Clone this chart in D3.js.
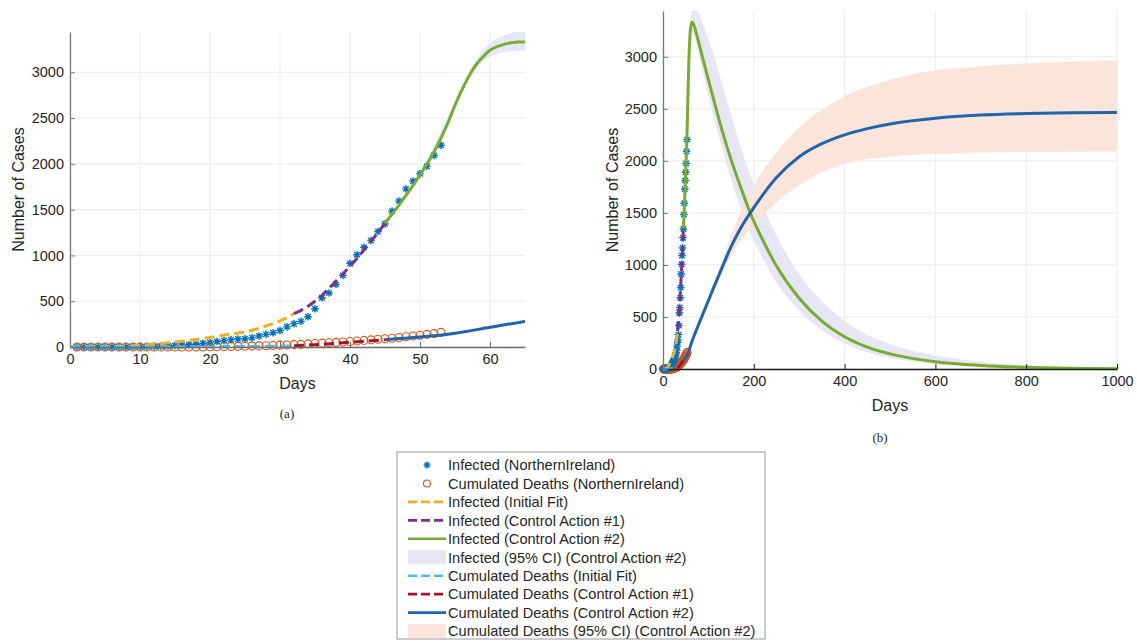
<!DOCTYPE html>
<html>
<head>
<meta charset="utf-8">
<script src="https://cdn.jsdelivr.net/npm/d3@7"></script>
<style>
  body { margin: 0; background: #fff; }
  text { font-family: "Liberation Sans", Arial, Helvetica, sans-serif; fill: #262626; }
  .caption { font-family: "Liberation Serif", "Times New Roman", serif; }
</style>
</head>
<body>
<script>
// ---- data ----
var obsDays = d3.range(1, 54);
var infectedObs = [1,1,1,1,1,1,1,1,2,3,4,6,8,12,15,20,25,30,40,50,60,70,80,88,90,100,120,138,156,180,
  220,255,280,330,418,538,590,684,782,913,1007,1090,1164,1262,1345,1484,1593,1727,1811,1891,1975,2091,2204];
var deathsObs = [0,0,0,0,0,0,0,0,0,0,0,0,0,0,0,0,0,1,1,2,3,5,6,7,9,10,12,14,17,20,
  22,26,29,34,38,42,46,50,55,60,66,72,78,84,90,96,104,112,120,128,138,146,160];

var infInitDays = [0,5,10,12,15,18,20,22,25,27,29,30,31,32];
var infInit     = [1,4,18,30,55,82,105,130,165,205,255,285,320,365];

var infCA1Days = [32,33,34,35,36,37,38,39,40,41,42,43,44,45];
var infCA1     = [365,400,445,500,565,640,720,800,880,970,1060,1155,1250,1350];

var infCA2Days = [45,46,47,48,49,50,51,52,53,54,55,56,57,58,59,60,61,62,63,64,66,70,76,85,96,110,133,150,170,195,214,250,300,350,400,450,500,600,700,800,900,1000];
var infCA2     = [1350,1450,1550,1655,1765,1880,2000,2130,2280,2450,2640,2810,2960,3080,3170,3240,3280,3305,3322,3332,3326,3280,3185,3030,2845,2615,2250,2010,1760,1470,1290,990,680,460,310,210,145,70,34,16,7,3];

var infCIDays = [45,50,55,58,60,62,64,66,70,76,85,96,110,133,150,170,195,214,250,300,350,400,450,500,600,700,800,1000];
var infCILow  = [1350,1865,2615,3040,3170,3220,3232,3230,3180,3080,2900,2700,2450,2080,1820,1560,1280,1110,830,560,370,245,160,105,48,22,10,2];
var infCIHigh = [1350,1895,2680,3140,3320,3400,3450,3480,3480,3440,3350,3220,3040,2700,2440,2150,1830,1620,1280,910,650,460,330,240,130,70,35,8];

var deaInitDays = [0,10,20,25,30,32];
var deaInit     = [0,1,3,6,10,13];

var deaCA1Days = [32,35,38,40,42,45];
var deaCA1     = [13,25,40,52,63,80];

var deaCA2Days = [45,50,55,60,65,70,80,96,110,133,150,170,200,250,300,350,400,450,500,600,700,800,900,1000];
var deaCA2     = [80,108,150,215,280,335,445,615,765,1005,1175,1345,1550,1840,2040,2165,2250,2310,2355,2410,2440,2455,2462,2465];

var deaCIDays = [100,120,140,160,180,200,250,300,350,400,500,600,700,800,1000];
var deaCILow  = [663,840,1010,1160,1280,1380,1600,1770,1890,1970,2040,2065,2080,2085,2090];
var deaCIHigh = [663,910,1160,1390,1590,1760,2080,2320,2490,2620,2780,2870,2910,2935,2965];

var yTicks = [0,500,1000,1500,2000,2500,3000];
var xTicksA = [0,10,20,30,40,50,60];
var xTicksB = [0,200,400,600,800,1000];

var legendLabels = [
  "Infected (NorthernIreland)",
  "Cumulated Deaths (NorthernIreland)",
  "Infected (Initial Fit)",
  "Infected (Control Action #1)",
  "Infected (Control Action #2)",
  "Infected (95% CI) (Control Action #2)",
  "Cumulated Deaths (Initial Fit)",
  "Cumulated Deaths (Control Action #1)",
  "Cumulated Deaths (Control Action #2)",
  "Cumulated Deaths (95% CI) (Control Action #2)"
];

// ---- styles ----
var col = {
  star: "#0072BD", circ: "#D95319", yellow: "#EDB120", purple: "#7E2F8E",
  green: "#77AC30", lav: "#e6e6f4", lblue: "#4DBEEE", dred: "#A2142F",
  blue: "#1f64ad", peach: "#fbe4da"
};
var yMax = 3440;

var svg = d3.select("body").append("svg")
  .attr("width", 1137).attr("height", 642);

function starPath(s) {
  var d = s * 0.72;
  return "M" + (-s) + ",0H" + s + "M0," + (-s) + "V" + s +
    "M" + (-d) + "," + (-d) + "L" + d + "," + d + "M" + (-d) + "," + d + "L" + d + "," + (-d);
}

function zip(days, vals) {
  return days.map(function (d, i) { return [d, vals[i]]; });
}

function drawPanel(p) {
  var g = svg.append("g");
  var x = d3.scaleLinear().domain([0, p.xMax]).range([p.x0, p.x1]);
  var y = d3.scaleLinear().domain([0, yMax]).range([p.y0, p.yTop]);

  // grid
  g.append("g").selectAll("line").data(p.xTicks).join("line")
    .attr("x1", function (d) { return x(d); }).attr("x2", function (d) { return x(d); })
    .attr("y1", p.y0).attr("y2", p.yTop)
    .attr("stroke", "#ebebeb").attr("stroke-width", 1);
  g.append("g").selectAll("line").data(yTicks).join("line")
    .attr("x1", p.x0).attr("x2", p.x1)
    .attr("y1", function (d) { return y(d); }).attr("y2", function (d) { return y(d); })
    .attr("stroke", "#ebebeb").attr("stroke-width", 1);

  var clipId = "clip" + p.id;
  svg.append("clipPath").attr("id", clipId).append("rect")
    .attr("x", p.x0).attr("y", p.yTop).attr("width", p.x1 - p.x0).attr("height", p.y0 - p.yTop);
  var clipId2 = "clipL" + p.id;
  svg.append("clipPath").attr("id", clipId2).append("rect")
    .attr("x", p.x0 - 3).attr("y", p.yTop).attr("width", p.x1 - p.x0 + 3).attr("height", p.y0 - p.yTop + 4);

  var area = d3.area().curve(d3.curveMonotoneX)
    .x(function (d) { return x(d[0]); })
    .y0(function (d) { return y(d[1]); })
    .y1(function (d) { return y(d[2]); });
  var bands = g.append("g").attr("clip-path", "url(#" + clipId + ")");
  bands.append("path")
    .datum(infCIDays.map(function (d, i) { return [d, infCILow[i], infCIHigh[i]]; }))
    .attr("d", area).attr("fill", col.lav);
  bands.append("path")
    .datum(deaCIDays.map(function (d, i) { return [d, deaCILow[i], deaCIHigh[i]]; }))
    .attr("d", area).attr("fill", col.peach);

  // observations
  g.append("g").selectAll("circle").data(zip(obsDays, deathsObs)).join("circle")
    .attr("cx", function (d) { return x(d[0]); }).attr("cy", function (d) { return y(d[1]); })
    .attr("r", 4).attr("fill", "none").attr("stroke", col.circ).attr("stroke-width", 1.1);
  g.append("g").selectAll("path").data(zip(obsDays, infectedObs)).join("path")
    .attr("transform", function (d) { return "translate(" + x(d[0]) + "," + y(d[1]) + ")"; })
    .attr("d", starPath(3.8)).attr("fill", "none").attr("stroke", col.star).attr("stroke-width", 1.4);

  // fitted curves
  var line = d3.line().curve(d3.curveMonotoneX)
    .x(function (d) { return x(d[0]); }).y(function (d) { return y(d[1]); });
  var curves = [
    { d: zip(infInitDays, infInit), c: col.yellow, dash: "10,5" },
    { d: zip(infCA1Days, infCA1), c: col.purple, dash: "10,5" },
    { d: zip(infCA2Days, infCA2), c: col.green, dash: null },
    { d: zip(deaInitDays, deaInit), c: col.lblue, dash: "10,5" },
    { d: zip(deaCA1Days, deaCA1), c: col.dred, dash: "10,5" },
    { d: zip(deaCA2Days, deaCA2), c: col.blue, dash: null }
  ];
  var lines = g.append("g").attr("clip-path", "url(#" + clipId2 + ")");
  curves.forEach(function (s) {
    lines.append("path").datum(s.d).attr("d", line)
      .attr("fill", "none").attr("stroke", s.c).attr("stroke-width", 3)
      .attr("stroke-dasharray", s.dash);
  });

  // axes
  var fmt = d3.format("d");
  var xAxis = d3.axisBottom(x).tickValues(p.xTicks).tickFormat(fmt)
    .tickSizeInner(-5).tickSizeOuter(0).tickPadding(7);
  var yAxis = d3.axisLeft(y).tickValues(yTicks).tickFormat(fmt)
    .tickSizeInner(-5).tickSizeOuter(0).tickPadding(6);
  var gx = g.append("g").attr("transform", "translate(0," + p.y0 + ")").call(xAxis);
  gx.select(".domain").attr("stroke", p.xAxisColor).attr("stroke-width", 1.3);
  gx.selectAll(".tick line").attr("stroke", p.xAxisColor);
  gx.selectAll("text").attr("font-size", 14.5).attr("fill", "#262626")
    .attr("font-family", "Liberation Sans, Arial, sans-serif");
  var gy = g.append("g").attr("transform", "translate(" + p.x0 + ",0)").call(yAxis);
  gy.select(".domain").attr("stroke", "#7a7a7a").attr("stroke-width", 1.3);
  gy.selectAll(".tick line").attr("stroke", "#7a7a7a");
  gy.selectAll("text").attr("font-size", 14.5).attr("fill", "#262626")
    .attr("font-family", "Liberation Sans, Arial, sans-serif");

  g.append("text").attr("x", (p.x0 + p.x1) / 2).attr("y", p.y0 + 42)
    .attr("text-anchor", "middle").attr("font-size", 16).text("Days");
  g.append("text")
    .attr("transform", "translate(" + p.yLabelX + "," + ((p.y0 + p.yTop) / 2) + ") rotate(-90)")
    .attr("text-anchor", "middle").attr("font-size", 16).text("Number of Cases");
  g.append("text").attr("class", "caption").attr("x", p.capX).attr("y", p.capY)
    .attr("text-anchor", "middle").attr("font-size", 13).text(p.caption);
}

drawPanel({ id: "a", x0: 70, x1: 525, yTop: 32, y0: 347, xMax: 65, xTicks: xTicksA,
  xAxisColor: "#6e6e6e", yLabelX: 24, capX: 287, capY: 418, caption: "(a)" });
drawPanel({ id: "b", x0: 663, x1: 1117, yTop: 11, y0: 369, xMax: 1000, xTicks: xTicksB,
  xAxisColor: "#1a1a1a", yLabelX: 618, capX: 880, capY: 442, caption: "(b)" });

// ---- legend ----
var leg = svg.append("g").attr("transform", "translate(397,452)");
leg.append("rect").attr("x", 0).attr("y", 0).attr("width", 368).attr("height", 187)
  .attr("fill", "#fff").attr("stroke", "#9a9a9a").attr("stroke-width", 1);

var legKinds = [
  { t: "star", c: col.star }, { t: "circ", c: col.circ },
  { t: "line", c: col.yellow, dash: "9,4" }, { t: "line", c: col.purple, dash: "9,4" },
  { t: "line", c: col.green }, { t: "patch", c: col.lav },
  { t: "line", c: col.lblue, dash: "9,4" }, { t: "line", c: col.dred, dash: "9,4" },
  { t: "line", c: col.blue }, { t: "patch", c: col.peach }
];
legendLabels.forEach(function (lab, i) {
  var cy = 13 + i * 18.45;
  var k = legKinds[i];
  var row = leg.append("g");
  if (k.t === "star") {
    row.append("path").attr("transform", "translate(30," + cy + ")")
      .attr("d", starPath(3.4)).attr("fill", "none").attr("stroke", k.c).attr("stroke-width", 1.3);
  } else if (k.t === "circ") {
    row.append("circle").attr("cx", 30).attr("cy", cy).attr("r", 3.5)
      .attr("fill", "none").attr("stroke", k.c).attr("stroke-width", 1.1);
  } else if (k.t === "line") {
    row.append("line").attr("x1", 11).attr("x2", 49).attr("y1", cy).attr("y2", cy)
      .attr("stroke", k.c).attr("stroke-width", 2.6).attr("stroke-dasharray", k.dash || null);
  } else {
    row.append("rect").attr("x", 11).attr("y", cy - 7).attr("width", 38).attr("height", 14)
      .attr("fill", k.c);
  }
  row.append("text").attr("x", 51).attr("y", cy).attr("dy", "0.36em")
    .attr("font-size", 14.6).text(lab);
});
</script>
</body>
</html>
